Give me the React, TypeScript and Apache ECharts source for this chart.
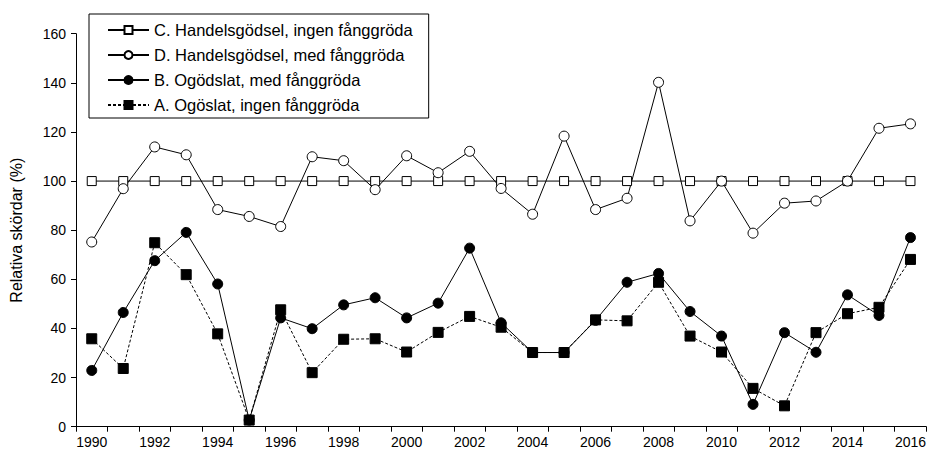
import React, { useEffect, useRef } from "react";
import * as echarts from "echarts";

const years = [
  "1990","1991","1992","1993","1994","1995","1996","1997","1998","1999",
  "2000","2001","2002","2003","2004","2005","2006","2007","2008","2009",
  "2010","2011","2012","2013","2014","2015","2016",
];

const seriesNames = [
  "C. Handelsgödsel, ingen fånggröda",
  "D. Handelsgödsel, med fånggröda",
  "B. Ogödslat, med fånggröda",
  "A. Ogöslat, ingen fånggröda",
];

const valuesC = [
  100, 100, 100, 100, 100, 100, 100, 100, 100, 100,
  100, 100, 100, 100, 100, 100, 100, 100, 100, 100,
  100, 100, 100, 100, 100, 100, 100,
];

const valuesD = [
  75.2, 96.9, 113.9, 110.7, 88.4, 85.6, 81.5, 109.9, 108.3, 96.5,
  110.3, 103.4, 112.1, 97.0, 86.5, 118.3, 88.4, 93.0, 140.2, 83.8,
  100, 78.8, 91.0, 91.9, 100, 121.5, 123.3,
];

const valuesB = [
  22.9, 46.5, 67.6, 79.1, 58.1, 2.7, 44.3, 39.9, 49.6, 52.5,
  44.3, 50.3, 72.7, 42.3, 30.2, 30.2, 43.3, 58.8, 62.4, 46.9,
  36.9, 9.1, 38.3, 30.3, 53.7, 45.3, 77.0,
];

const valuesA = [
  35.8, 23.7, 74.9, 61.9, 37.8, 2.7, 47.6, 22.0, 35.6, 35.8,
  30.4, 38.4, 44.9, 40.5, 30.2, 30.2, 43.5, 43.1, 58.8, 36.9,
  30.4, 15.6, 8.5, 38.3, 46.0, 48.6, 68.1,
];

const yAxisName = "Relativa skördar (%)";

const FONT = "Liberation Sans";

export default function App() {
  const ref = useRef<HTMLDivElement>(null);

  useEffect(() => {
    document.body.style.margin = "0";
    if (!ref.current) return;
    const chart = echarts.init(ref.current, undefined, { renderer: "svg" });

    const lineSeries = (
      name: string,
      data: number[],
      symbol: string,
      fill: string,
      dashed: boolean,
      size: number
    ) => ({
      name,
      type: "line",
      data,
      symbol,
      symbolSize: size,
      showAllSymbol: true,
      lineStyle: { color: "#000", width: 1, type: dashed ? [3, 2] : "solid" },
      itemStyle: { color: fill, borderColor: "#000", borderWidth: 1, opacity: 1 },
      emphasis: { disabled: true },
    });

    chart.setOption({
      animation: false,
      textStyle: { fontFamily: FONT },
      grid: { left: 74, right: 2.3, top: 33.7, bottom: 23.3, containLabel: false },
      legend: {
        orient: "vertical",
        left: 89,
        top: 14,
        data: seriesNames,
        borderColor: "#000",
        borderWidth: 1,
        padding: [7, 16, 4, 18],
        itemWidth: 41,
        itemHeight: 10,
        itemGap: 7,
        textStyle: { fontFamily: FONT, fontSize: 16.5, lineHeight: 18, color: "#000" },
        selectedMode: false,
      },
      xAxis: {
        type: "category",
        data: years,
        boundaryGap: true,
        axisLine: { lineStyle: { color: "#000", width: 1 } },
        axisTick: { show: true, interval: 0, length: 5, inside: false, lineStyle: { color: "#000" } },
        axisLabel: { interval: 1, fontSize: 14, color: "#000", margin: 8, fontFamily: FONT },
        splitLine: { show: false },
      },
      yAxis: {
        type: "value",
        min: 0,
        max: 160,
        interval: 20,
        name: yAxisName,
        nameLocation: "middle",
        nameRotate: 90,
        nameGap: 52,
        nameTextStyle: { fontSize: 16, color: "#000", fontFamily: FONT },
        axisLine: { show: true, lineStyle: { color: "#000", width: 1 } },
        axisTick: { show: true, length: 5, inside: false, lineStyle: { color: "#000" } },
        axisLabel: { fontSize: 14, color: "#000", margin: 10, fontFamily: FONT },
        splitLine: { show: false },
      },
      series: [
        lineSeries(seriesNames[0], valuesC, "rect", "#fff", false, 9),
        lineSeries(seriesNames[1], valuesD, "circle", "#fff", false, 10),
        lineSeries(seriesNames[2], valuesB, "circle", "#000", false, 10),
        lineSeries(seriesNames[3], valuesA, "rect", "#000", true, 10),
      ],
    });

    return () => chart.dispose();
  }, []);

  return (
    <div
      ref={ref}
      style={{ position: "absolute", left: 0, top: 0, width: 929, height: 450 }}
    />
  );
}
